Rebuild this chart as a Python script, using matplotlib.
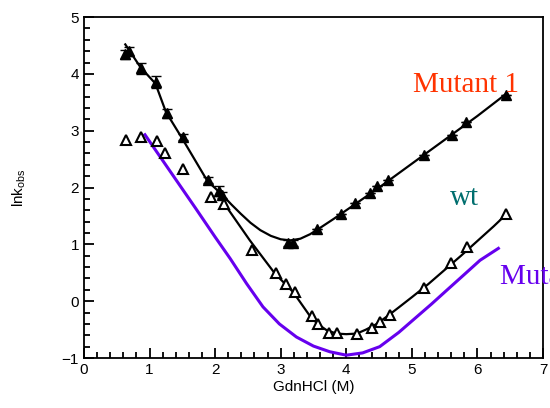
import matplotlib.pyplot as plt
import numpy as np
from matplotlib.ticker import MultipleLocator

# lnk_obs vs denaturant
m1_x = [0.63, 0.68, 0.87, 1.10, 1.27, 1.51, 1.89, 2.06, 2.10, 3.11, 3.19, 3.55, 3.92,
        4.13, 4.36, 4.47, 4.63, 5.18, 5.61, 5.82, 6.43]
m1_y = [4.35, 4.40, 4.10, 3.86, 3.31, 2.89, 2.13, 1.94, 1.87, 1.02, 1.02, 1.27, 1.53,
        1.72, 1.90, 2.02, 2.13, 2.57, 2.92, 3.15, 3.63]
m1_err = [0.08, 0.08, 0.10, 0.10, 0.08, 0.05, 0.05, 0.08, 0.05, 0.05, 0.05, 0.0, 0.0,
          0.0, 0.0, 0.0, 0.0, 0.0, 0.0, 0.0, 0.0]

wt_x = [0.64, 0.87, 1.11, 1.23, 1.51, 1.94, 2.13, 2.56, 2.93, 3.08, 3.22, 3.48, 3.57,
        3.73, 3.86, 4.16, 4.39, 4.51, 4.66, 5.18, 5.59, 5.84, 6.43]
wt_y = [2.83, 2.89, 2.82, 2.60, 2.32, 1.83, 1.71, 0.90, 0.49, 0.30, 0.16, -0.26, -0.40,
        -0.56, -0.56, -0.58, -0.48, -0.37, -0.25, 0.23, 0.67, 0.95, 1.53]

# fitted chevrons
m1_fit_x = [0.63, 0.86, 1.09, 1.25, 1.50, 1.88, 2.00, 2.11, 2.25, 2.39, 2.54, 2.69, 2.85,
            3.00, 3.15, 3.30, 3.45, 3.60, 3.81, 4.10, 4.50, 5.00, 5.50, 6.00, 6.45]
m1_fit_y = [4.52, 4.12, 3.83, 3.33, 2.86, 2.12, 1.99, 1.87, 1.70, 1.54, 1.38, 1.25, 1.15,
            1.09, 1.07, 1.10, 1.18, 1.29, 1.45, 1.68, 2.00, 2.42, 2.84, 3.26, 3.66]

wt_fit_x = [2.08, 2.15, 2.53, 2.91, 3.19, 3.47, 3.60, 3.70, 3.85, 4.00, 4.16, 4.30, 4.45,
            4.62, 4.80, 5.00, 5.25, 5.50, 5.75, 6.00, 6.25, 6.45]
wt_fit_y = [1.84, 1.70, 1.07, 0.49, 0.16, -0.30, -0.43, -0.51, -0.57, -0.58, -0.57, -0.50,
            -0.41, -0.27, -0.11, 0.07, 0.30, 0.55, 0.80, 1.06, 1.32, 1.54]

m2_x = [0.93, 1.30, 1.70, 2.00, 2.23, 2.48, 2.73, 2.98, 3.24, 3.50, 3.75, 4.00, 4.25,
        4.51, 4.80, 5.02, 5.30, 5.53, 5.80, 6.04, 6.32]
m2_y = [2.93, 2.31, 1.64, 1.13, 0.75, 0.31, -0.10, -0.40, -0.63, -0.79, -0.89, -0.95,
        -0.91, -0.80, -0.55, -0.33, -0.05, 0.19, 0.47, 0.72, 0.93]

plt.rcParams['font.family'] = ['Liberation Sans', 'DejaVu Sans']

fig = plt.figure(figsize=(5.5, 4.08), dpi=100)
ax = fig.add_axes([0.1527, 0.1225, 0.8345, 0.8355])

ax.plot(m2_x, m2_y, color='#6600ee', lw=2.2)
ax.plot(m1_fit_x, m1_fit_y, color='black', lw=1.6)
ax.plot(wt_fit_x, wt_fit_y, color='black', lw=1.6)

ax.errorbar(m1_x, m1_y, yerr=m1_err, fmt='^', color='black', ms=7, capsize=3.5, elinewidth=1.2)
ax.plot(wt_x, wt_y, '^', mfc='white', mec='black', mew=1.5, ms=6.5)

ax.set_xlim(0, 7)
ax.set_ylim(-1, 5)
ax.xaxis.set_major_locator(MultipleLocator(1))
ax.xaxis.set_minor_locator(MultipleLocator(0.2))
ax.yaxis.set_major_locator(MultipleLocator(1))
ax.yaxis.set_minor_locator(MultipleLocator(0.2))
ax.tick_params(which='both', direction='in', labelsize=11, width=1.3)
ax.tick_params(which='major', length=7)
ax.tick_params(which='minor', length=4)
for s in ax.spines.values():
    s.set_linewidth(1.3)

ax.set_xlabel('GdnHCl (M)', fontsize=11, labelpad=2)
ax.set_ylabel('lnk$_{\\mathregular{obs}}$', fontsize=11, labelpad=24)

ax.text(5.02, 3.80, 'Mutant 1', color='#ff3300', fontsize=21, family='Liberation Serif', va='center')
ax.text(5.58, 1.81, 'wt', color='#006e6e', fontsize=21, family='Liberation Serif', va='center')
ax.text(6.34, 0.42, 'Mutant 2', color='#6600ee', fontsize=21, family='Liberation Serif',
        va='center', clip_on=False)

fig.savefig('out.png')
